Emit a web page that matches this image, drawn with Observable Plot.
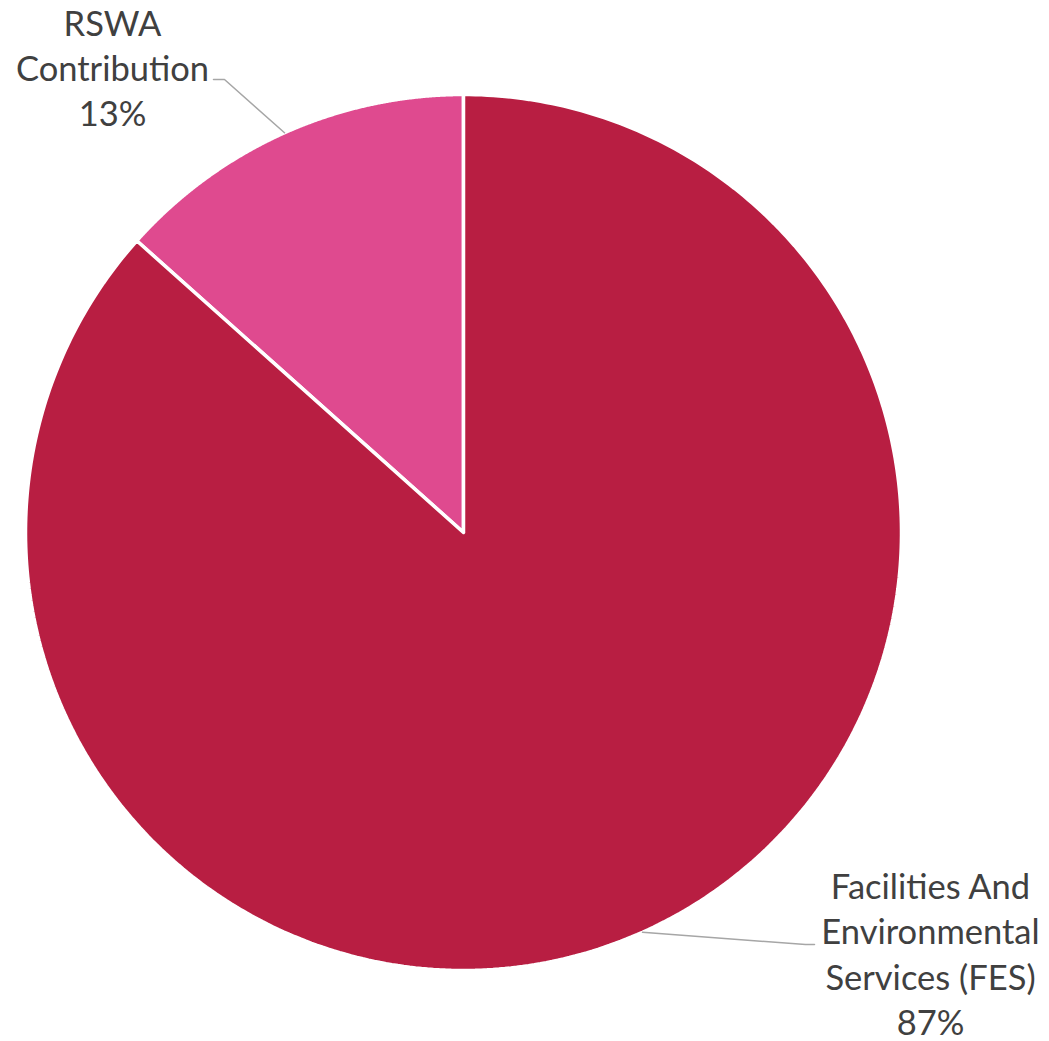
<!DOCTYPE html>
<html>
<head>
<meta charset="utf-8">
<script src="https://cdn.jsdelivr.net/npm/d3@7"></script>
<script src="https://cdn.jsdelivr.net/npm/@observablehq/plot@0.6"></script>
<style>
  html, body { margin: 0; padding: 0; background: #fff; }
  #chart { width: 1049px; height: 1041px; }
</style>
</head>
<body>
<div id="chart"></div>
<script>
// ---- data ----
const categories = ["RSWA Contribution", "Facilities And Environmental Services (FES)"];
const labelNames = ["RSWA\nContribution", "Facilities And\nEnvironmental\nServices (FES)"];
const values = [13.4, 86.6];
const colors = ["#DF4A8F", "#B81E42"];

// ---- layout ----
const W = 1049, H = 1041;
const cx = 463, cy = 532, R = 438;
const total = d3.sum(values);
const a0 = -values[0] / total * 2 * Math.PI;

const pie = d3.pie().sort(null).value(d => d.value)
  .startAngle(a0).endAngle(a0 + 2 * Math.PI);
const slices = pie(categories.map((c, i) => ({
  name: c, value: values[i], color: colors[i],
  label: labelNames[i] + "\n" + Math.round(values[i] / total * 100) + "%"
})));

// polygon points in unit-radius data space (y up)
const pts = [];
for (const s of slices) {
  pts.push({name: s.data.name, x: 0, y: 0});
  const n = 400;
  for (let k = 0; k <= n; k++) {
    const a = s.startAngle + (s.endAngle - s.startAngle) * k / n;
    pts.push({name: s.data.name, x: Math.sin(a), y: Math.cos(a)});
  }
  pts.push({name: s.data.name, x: 0, y: 0});
}

// label placement (pixel offsets from pie centre, y down)
const px = 1 / R;
const labelStyle = [
  {elbow: [-239, -453], end: [-250, -453], text: [-351, -466]},
  {elbow: [342, 412], end: [351, 412], text: [467, 420]}
];
const leaders = [], labels = [];
slices.forEach((s, i) => {
  const mid = (s.startAngle + s.endAngle) / 2;
  const st = labelStyle[i];
  leaders.push({name: s.data.name, x: Math.sin(mid), y: Math.cos(mid)});
  leaders.push({name: s.data.name, x: st.elbow[0] * px, y: -st.elbow[1] * px});
  leaders.push({name: s.data.name, x: st.end[0] * px, y: -st.end[1] * px});
  labels.push({label: s.data.label, x: st.text[0] * px, y: -st.text[1] * px});
});

const chart = Plot.plot({
  width: W,
  height: H,
  margin: 0,
  x: {domain: [-cx / R, (W - cx) / R], axis: null},
  y: {domain: [-(H - cy) / R, cy / R], axis: null},
  marks: [
    ...slices.map(s => Plot.line(pts.filter(p => p.name === s.data.name), {
      x: "x", y: "y", fill: s.data.color, stroke: "white", strokeWidth: 3.5,
      strokeLinejoin: "miter", curve: "linear"
    })),
    Plot.line(leaders, {x: "x", y: "y", z: "name", stroke: "#A6A6A6", strokeWidth: 1.5}),
    Plot.text(labels, {
      x: "x", y: "y", text: "label", fill: "#404040",
      fontSize: 34.5, lineHeight: 1.31, textAnchor: "middle",
      fontFamily: "Lato, 'Open Sans', sans-serif"
    })
  ]
});
document.getElementById("chart").appendChild(chart);
</script>
</body>
</html>
